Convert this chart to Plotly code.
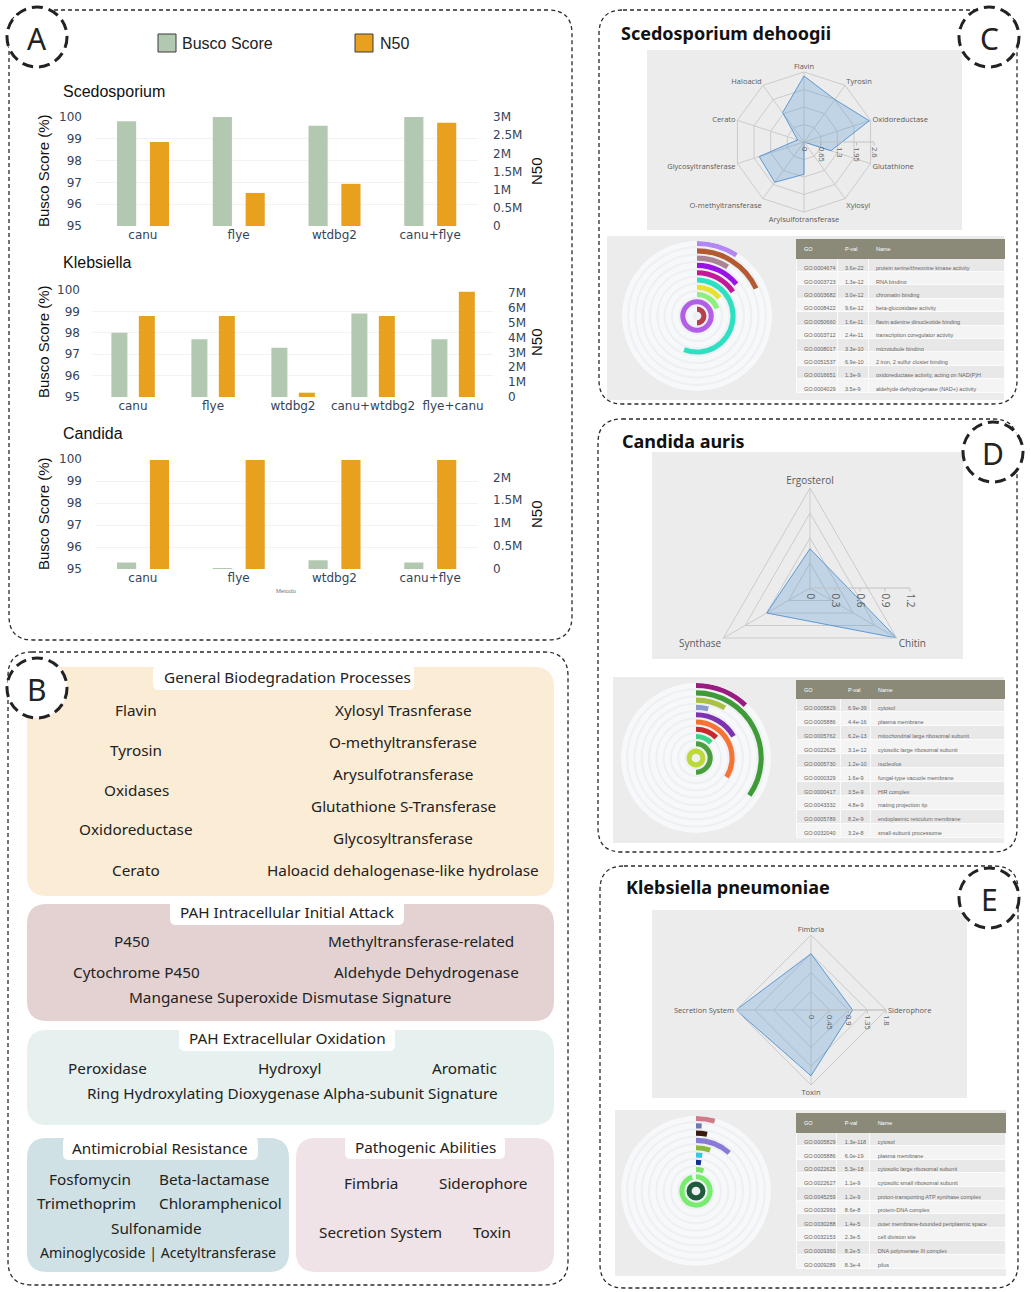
import plotly.graph_objects as go

W, H = 1031, 1292


def X(p):
    return p / W


def Y(p):
    return 1 - p / H


# ---------------- Panel A data ----------------
sced_methods = ["canu", "flye", "wtdbg2", "canu+flye"]
sced_busco = [99.8, 100.0, 99.6, 100.0]
sced_n50 = [2310000, 910000, 1160000, 2840000]

kleb_methods = ["canu", "flye", "wtdbg2", "canu+wtdbg2", "flye+canu"]
kleb_busco = [98.0, 97.7, 97.3, 98.9, 97.7]
kleb_n50 = [5450000, 5450000, 290000, 5450000, 7080000]

cand_methods = ["canu", "flye", "wtdbg2", "canu+flye"]
cand_busco = [95.3, 95.05, 95.4, 95.3]
cand_n50 = [2380000, 2380000, 2380000, 2380000]

busco_ticks = [95, 96, 97, 98, 99, 100]
sced_n50_ticks = [0, 500000, 1000000, 1500000, 2000000, 2500000, 3000000]
sced_n50_labels = ["0", "0.5M", "1M", "1.5M", "2M", "2.5M", "3M"]
kleb_n50_ticks = [0, 1000000, 2000000, 3000000, 4000000, 5000000, 6000000, 7000000]
kleb_n50_labels = ["0", "1M", "2M", "3M", "4M", "5M", "6M", "7M"]
cand_n50_ticks = [0, 500000, 1000000, 1500000, 2000000]
cand_n50_labels = ["0", "0.5M", "1M", "1.5M", "2M"]

# ---------------- Radar data ----------------
sced_radar_axes = ["Flavin", "Tyrosin", "Oxidoreductase", "Glutathione", "Xylosyl",
                   "Arylsulfotransferase", "O-methyltransferase", "Glycosyltransferase",
                   "Cerato", "Haloacid"]
sced_radar_vals = [2.45, 1.95, 2.55, 1.05, 0.0, 1.2, 1.85, 1.75, 0.25, 1.35]
sced_radar_ticks = [0, 0.65, 1.3, 1.95, 2.6]
sced_radar_ticklabels = ["0", "0.65", "1.3", "1.95", "2.6"]

cand_radar_axes = ["Ergosterol", "Chitin", "Synthase"]
cand_radar_vals = [0.47, 1.2, 0.6]
cand_radar_ticks = [0, 0.3, 0.6, 0.9, 1.2]
cand_radar_ticklabels = ["0", "0.3", "0.6", "0.9", "1.2"]

kleb_radar_axes = ["Fimbria", "Siderophore", "Toxin", "Secretion System"]
kleb_radar_vals = [1.35, 1.0, 1.58, 1.8]
kleb_radar_ticks = [0, 0.45, 0.9, 1.35, 1.8]
kleb_radar_ticklabels = ["0", "0.45", "0.9", "1.35", "1.8"]

# ---------------- Radial GO bars (inner -> outer, arc in degrees) ----------------
sced_go_arcs = [180, 360, 69, 51, 201, 56, 51, 32, 65, 33]
sced_go_colors = ["#b5404e", "#b25ee6", "#8df07a", "#e6e32c", "#2ee0c2",
                  "#c2189a", "#9a12e6", "#a88494", "#b35a32", "#b388f2"]
cand_go_arcs = [360, 180, 44, 45, 122, 60, 14, 30, 125, 43]
cand_go_colors = ["#bcd93a", "#4a9e3c", "#3bd488", "#c82a2a", "#f57335",
                  "#7d32b4", "#8a9ad0", "#a9c245", "#3f9b38", "#9a1c80"]
kleb_go_arcs = [360, 345, 20, 10, 10, 19, 41, 11, 5, 15]
kleb_go_colors = ["#1f5c3c", "#77ec6e", "#7ae36a", "#12308e", "#34c9e2",
                  "#8aba3a", "#8a7ad8", "#3b1a10", "#6a7ab2", "#d07a8a"]

# ---------------- GO tables ----------------
sced_go_ids = ["GO:0004674", "GO:0003723", "GO:0003682", "GO:0008422", "GO:0050660",
               "GO:0003712", "GO:0008017", "GO:0051537", "GO:0016651", "GO:0004029"]
sced_go_p = ["3.6e-22", "1.3e-12", "3.0e-12", "9.6e-12", "1.6e-11",
             "2.4e-11", "3.3e-10", "6.9e-10", "1.3e-9", "3.5e-9"]
sced_go_names = ["protein serine/threonine kinase activity", "RNA binding", "chromatin binding",
                 "beta-glucosidase activity", "flavin adenine dinucleotide binding",
                 "transcription coregulator activity", "microtubule binding",
                 "2 iron, 2 sulfur cluster binding", "oxidoreductase activity, acting on NAD(P)H",
                 "aldehyde dehydrogenase (NAD+) activity"]

cand_go_ids = ["GO:0005829", "GO:0005886", "GO:0005762", "GO:0022625", "GO:0005730",
               "GO:0000329", "GO:0000417", "GO:0043332", "GO:0005789", "GO:0032040"]
cand_go_p = ["6.9e-39", "4.4e-16", "6.2e-13", "3.1e-12", "1.2e-10",
             "1.6e-9", "3.5e-9", "4.8e-9", "8.2e-9", "3.2e-8"]
cand_go_names = ["cytosol", "plasma membrane", "mitochondrial large ribosomal subunit",
                 "cytosolic large ribosomal subunit", "nucleolus", "fungal-type vacuole membrane",
                 "HIR complex", "mating projection tip", "endoplasmic reticulum membrane",
                 "small-subunit processome"]

kleb_go_ids = ["GO:0005829", "GO:0005886", "GO:0022625", "GO:0022627", "GO:0045259",
               "GO:0032993", "GO:0030288", "GO:0032153", "GO:0009360", "GO:0009289"]
kleb_go_p = ["1.3e-118", "6.0e-19", "5.3e-18", "1.1e-9", "1.2e-9",
             "8.6e-8", "1.4e-5", "2.3e-5", "8.2e-5", "8.3e-4"]
kleb_go_names = ["cytosol", "plasma membrane", "cytosolic large ribosomal subunit",
                 "cytosolic small ribosomal subunit", "proton-transporting ATP synthase complex",
                 "protein-DNA complex", "outer membrane-bounded periplasmic space",
                 "cell division site", "DNA polymerase III complex", "pilus"]

# ---------------- Panel B text ----------------
gbp_left = ["Flavin", "Tyrosin", "Oxidases", "Oxidoreductase", "Cerato"]
gbp_right = ["Xylosyl Trasnferase", "O-methyltransferase", "Arysulfotransferase",
             "Glutathione S-Transferase", "Glycosyltransferase",
             "Haloacid dehalogenase-like hydrolase"]

# ====================================================================
fig = go.Figure()

GREEN = "#b3c8b0"
ORANGE = "#e8a11f"
BW, G_OFF, O_OFF = 0.2, -0.27, 0.073


def add_bars(methods, busco, n50, xa, ya, ya2):
    fig.add_trace(go.Bar(x=methods, y=busco, xaxis=xa, yaxis=ya, marker=dict(color=GREEN, line_width=0),
                         width=BW, offset=G_OFF, name="Busco Score", showlegend=False, hoverinfo="skip"))
    fig.add_trace(go.Bar(x=methods, y=n50, xaxis=xa, yaxis=ya2, marker=dict(color=ORANGE, line_width=0),
                         width=BW, offset=O_OFF, name="N50", showlegend=False, hoverinfo="skip"))


add_bars(sced_methods, sced_busco, sced_n50, "x", "y", "y2")
add_bars(kleb_methods, kleb_busco, kleb_n50, "x2", "y3", "y4")
add_bars(cand_methods, cand_busco, cand_n50, "x3", "y5", "y6")

tickfont = dict(family="DejaVu Sans", size=12, color="#34445a")


def xax(x0, x1, anchor):
    return dict(domain=[X(x0), X(x1)], anchor=anchor, type="category", showgrid=False,
                zeroline=False, showline=False, ticks="", tickfont=tickfont, fixedrange=True)


def yleft(top, bot, anchor):
    return dict(domain=[Y(bot), Y(top)], anchor=anchor, range=[95, 100], tickvals=busco_ticks,
                showgrid=True, gridcolor="#f2f2f2", zeroline=False, showline=False,
                tickfont=tickfont, ticklabelstandoff=12, fixedrange=True)


def yright(over, anchor, rng, tv, tt):
    return dict(overlaying=over, side="right", anchor=anchor, range=rng, tickvals=tv, ticktext=tt,
                showgrid=False, zeroline=False, showline=False, tickfont=tickfont,
                ticklabelstandoff=14, fixedrange=True)


# ---------------- Radar charts ----------------
def add_radar(axes, vals, subplot, ticks, axis_subplot):
    fig.add_trace(go.Scatterpolar(r=vals + [vals[0]], theta=axes + [axes[0]], subplot=subplot,
                                  mode="lines", fill="toself", fillcolor="rgba(91,155,213,0.30)",
                                  line=dict(color="rgba(80,145,210,0.9)", width=1),
                                  showlegend=False, hoverinfo="skip"))
    # invisible carrier so the horizontal radial scale (drawn on its own polar) is rendered
    fig.add_trace(go.Scatterpolar(r=ticks, theta=[0] * len(ticks), subplot=axis_subplot,
                                  mode="markers", marker=dict(size=1, opacity=0),
                                  showlegend=False, hoverinfo="skip"))


add_radar(sced_radar_axes, sced_radar_vals, "polar", sced_radar_ticks, "polar7")
add_radar(cand_radar_axes, cand_radar_vals, "polar2", cand_radar_ticks, "polar8")
add_radar(kleb_radar_axes, kleb_radar_vals, "polar3", kleb_radar_ticks, "polar9")


def dom(cx, cy, R):
    return dict(x=[X(cx - R), X(cx + R)], y=[Y(cy + R), Y(cy - R)])


def radar_layout(cx, cy, R, rng, tv, fsize):
    return dict(
        domain=dom(cx, cy, R),
        bgcolor="rgba(0,0,0,0)", gridshape="linear",
        angularaxis=dict(rotation=90, direction="clockwise", showline=True, linecolor="#cbcbcb",
                         gridcolor="#cbcbcb", ticks="",
                         tickfont=dict(family="Open Sans", size=fsize, color="#5a5a5a")),
        radialaxis=dict(range=rng, tickvals=tv, showline=False, showticklabels=False, ticks="",
                        gridcolor="#cbcbcb"))


def radar_scale_layout(cx, cy, R, rng, tv, tt, fsize):
    return dict(
        domain=dom(cx, cy, R), bgcolor="rgba(0,0,0,0)",
        angularaxis=dict(visible=False),
        radialaxis=dict(range=rng, tickvals=tv, ticktext=tt, angle=0, tickangle=90, showline=True,
                        linecolor="#c2c2c2", showgrid=False, ticks="outside", ticklen=3,
                        tickcolor="#bdbdbd",
                        tickfont=dict(family="Open Sans", size=fsize, color="#5a5a5a")))


# ---------------- Radial GO bars ----------------
RING_T = 0.7


def add_radial(arcs, colors, subplot):
    n = len(arcs)
    fig.add_trace(go.Barpolar(r=[n + 0.3], base=[0], theta=[180], width=[360], subplot=subplot,
                              marker=dict(color="#eef0f3", line_width=0), showlegend=False, hoverinfo="skip"))
    fig.add_trace(go.Barpolar(r=[RING_T] * n, base=[i + 0.6 for i in range(n)], theta=[180] * n,
                              width=[360] * n, subplot=subplot,
                              marker=dict(color="#f7f8fa", line_width=0), showlegend=False, hoverinfo="skip"))
    fig.add_trace(go.Barpolar(r=[RING_T] * n, base=[i + 0.6 for i in range(n)],
                              theta=[a / 2 for a in arcs], width=arcs, subplot=subplot,
                              marker=dict(color=colors, line_width=0), showlegend=False, hoverinfo="skip"))


add_radial(sced_go_arcs, sced_go_colors, "polar4")
add_radial(cand_go_arcs, cand_go_colors, "polar5")
add_radial(kleb_go_arcs, kleb_go_colors, "polar6")


def radial_layout(cx, cy, R, n):
    return dict(domain=dom(cx, cy, R),
                bgcolor="rgba(0,0,0,0)", barmode="overlay",
                radialaxis=dict(visible=False, range=[0, n + 0.3]),
                angularaxis=dict(visible=False, rotation=90, direction="clockwise"))


# ---------------- Tables ----------------
def add_table(ids, ps, names, x0, x1, y0, y1, hh, rh, colw):
    n = len(ids)
    fills = ["#e8e8e8" if i % 2 == 0 else "#f4f4f4" for i in range(n)]
    fig.add_trace(go.Table(
        domain=dict(x=[X(x0), X(x1)], y=[Y(y1), Y(y0)]),
        columnwidth=colw,
        header=dict(values=["GO", "P-val", "Name"], fill_color="#8b8a78", align="left", height=hh,
                    font=dict(family="Liberation Sans", size=5.5, color="white"),
                    line=dict(color="#8b8a78", width=1)),
        cells=dict(values=[ids, ps, names], fill_color=[fills] * 3, align="left", height=rh,
                   font=dict(family="Liberation Sans", size=5.5, color="#666666"),
                   line=dict(color="#fbfbfb", width=1))))


add_table(sced_go_ids, sced_go_p, sced_go_names, 796, 1004, 239, 400, 19, 13.4, [41, 31, 136])
add_table(cand_go_ids, cand_go_p, cand_go_names, 796, 1004, 680, 844, 18, 13.9, [44, 30, 134])
add_table(kleb_go_ids, kleb_go_p, kleb_go_names, 796, 1006, 1113, 1276, 19, 13.6, [41, 33, 136])

# ---------------- Shapes ----------------
shapes = []


def rrect(x0, y0, x1, y1, r, fill=None, line=None, layer="below"):
    rx, ry = r / W, r / H
    a0, a1 = X(x0), X(x1)
    b0, b1 = Y(y0), Y(y1)
    p = (f"M{a0+rx},{b0} L{a1-rx},{b0} Q{a1},{b0} {a1},{b0-ry} L{a1},{b1+ry} "
         f"Q{a1},{b1} {a1-rx},{b1} L{a0+rx},{b1} Q{a0},{b1} {a0},{b1+ry} L{a0},{b0-ry} "
         f"Q{a0},{b0} {a0+rx},{b0} Z")
    d = dict(type="path", path=p, xref="paper", yref="paper", layer=layer)
    d["fillcolor"] = fill if fill else "rgba(0,0,0,0)"
    d["line"] = line if line else dict(width=0)
    shapes.append(d)


def rect(x0, y0, x1, y1, fill, line=None, layer="below"):
    shapes.append(dict(type="rect", xref="paper", yref="paper", x0=X(x0), x1=X(x1), y0=Y(y1), y1=Y(y0),
                       fillcolor=fill, line=line if line else dict(width=0), layer=layer))


BOXLINE = dict(color="#2a2a2a", width=1.3, dash="4px,3px")

# grey backgrounds (right panels)
rect(647, 50, 962, 230, "#ececec")
rect(607, 236, 1004, 400, "#ececec")
rect(652, 452, 963, 659, "#ececec")
rect(613, 677, 1004, 843, "#ececec")
rect(652, 910, 967, 1098, "#ececec")
rect(615, 1110, 1006, 1276, "#ececec")

# Panel B colour blocks
rrect(27, 667, 554, 896, 20, fill="#fbecd5")
rrect(27, 904, 554, 1021, 20, fill="#e4d2d2")
rrect(27, 1030, 554, 1125, 20, fill="#e6f1ef")
rrect(27, 1138, 289, 1272, 20, fill="#cfe1e5")
rrect(296, 1138, 554, 1272, 20, fill="#efe3e7")
# white title tabs
rrect(153, 665, 414, 690, 6, fill="white")
rrect(170, 900, 404, 925, 6, fill="white")
rrect(179, 1026, 395, 1051, 6, fill="white")
rrect(63, 1136, 258, 1160, 6, fill="white")
rrect(345, 1135, 505, 1159, 6, fill="white")

# dashed panel frames
rrect(9, 10, 572, 640, 24, line=BOXLINE, layer="above")
rrect(8, 652, 568, 1285, 24, line=BOXLINE, layer="above")
rrect(599, 10, 1017, 404, 24, line=BOXLINE, layer="above")
rrect(598, 419, 1017, 852, 24, line=BOXLINE, layer="above")
rrect(600, 866, 1018, 1288, 24, line=BOXLINE, layer="above")

# legend swatches
rect(158, 34, 176, 52, GREEN, line=dict(color="#3a3a3a", width=1), layer="above")
rect(355, 34, 373, 52, ORANGE, line=dict(color="#3a3a3a", width=1), layer="above")

# letter circles
for (cx, cy) in [(37, 37), (37, 688), (989, 37), (993, 452), (989, 898)]:
    shapes.append(dict(type="circle", xref="paper", yref="paper", x0=X(cx - 30), x1=X(cx + 30),
                       y0=Y(cy + 30), y1=Y(cy - 30), fillcolor="white",
                       line=dict(color="#222222", width=3, dash="11px,6px"), layer="above"))

# ---------------- Annotations ----------------
anns = []


def ann(text, x, y, size, family="Noto Sans", color="#222222", xanchor="center", angle=0, bold=False):
    anns.append(dict(text=f"<b>{text}</b>" if bold else text, x=X(x), y=Y(y), xref="paper", yref="paper",
                     xanchor=xanchor, yanchor="middle", showarrow=False, textangle=angle,
                     font=dict(family=family, size=size, color=color)))


for lt, (cx, cy) in zip(["A", "B", "C", "D", "E"],
                        [(37, 37), (37, 688), (989, 37), (993, 452), (989, 898)]):
    ann(lt, cx, cy + 1, 30, family="Noto Sans", color="#222222")

AF = "Liberation Sans"
ann("Busco Score", 180, 43, 16, family=AF, xanchor="left")
ann("N50", 378, 43, 16, family=AF, xanchor="left")
ann("Scedosporium", 61, 91, 16, family=AF, xanchor="left", color="#111")
ann("Klebsiella", 61, 262, 16, family=AF, xanchor="left", color="#111")
ann("Candida", 61, 433, 16, family=AF, xanchor="left", color="#111")
for yc in [171, 342, 514]:
    ann("Busco Score (%)", 44, yc, 15, family=AF, angle=-90, color="#111")
    ann("N50", 537, yc, 15, family=AF, angle=-90, color="#111")
ann("Metodo", 286, 591, 6, family=AF, color="#777777")

# right panel titles
ann("Scedosporium dehoogii", 619, 33, 18, xanchor="left", bold=True, color="#111")
ann("Candida auris", 620, 441, 18, xanchor="left", bold=True, color="#111")
ann("Klebsiella pneumoniae", 624, 887, 18, xanchor="left", bold=True, color="#111")

# Panel B
BF = 15.3
ann("General Biodegradation Processes", 287, 677, BF)
for t, yy in zip(gbp_left, [710, 750, 790, 829, 870]):
    ann(t, 136, yy, BF)
for t, yy in zip(gbp_right, [710, 742, 774, 806, 838, 870]):
    ann(t, 403, yy, BF)

ann("PAH Intracellular Initial Attack", 287, 912, BF)
ann("P450", 132, 941, BF)
ann("Methyltransferase-related", 421, 941, BF)
ann("Cytochrome P450", 136, 972, BF)
ann("Aldehyde Dehydrogenase", 426, 972, BF)
ann("Manganese Superoxide Dismutase Signature", 290, 997, BF)

ann("PAH Extracellular Oxidation", 287, 1038, BF)
ann("Peroxidase", 107, 1068, BF)
ann("Hydroxyl", 289, 1068, BF)
ann("Aromatic", 464, 1068, BF)
ann("Ring Hydroxylating Dioxygenase Alpha-subunit Signature", 292, 1093, BF)

ann("Antimicrobial Resistance", 160, 1148, BF)
ann("Fosfomycin", 90, 1179, BF)
ann("Beta-lactamase", 214, 1179, BF)
ann("Trimethoprim", 86, 1203, BF)
ann("Chloramphenicol", 220, 1203, BF)
ann("Sulfonamide", 156, 1228, BF)
ann("Aminoglycoside | Acetyltransferase", 158, 1252, 14.2)

ann("Pathogenic Abilities", 425, 1147, BF)
ann("Fimbria", 371, 1183, BF)
ann("Siderophore", 483, 1183, BF)
ann("Secretion System", 380, 1232, BF)
ann("Toxin", 492, 1232, BF)

fig.update_layout(
    width=W, height=H, margin=dict(l=0, r=0, t=0, b=0, autoexpand=False), autosize=False,
    paper_bgcolor="white", plot_bgcolor="white", showlegend=False, hovermode=False,
    font=dict(family="Open Sans", color="#222"),
    xaxis=xax(95, 478, "y"),
    yaxis=yleft(117, 226, "x"),
    yaxis2=yright("y", "x", [0, 3000000], sced_n50_ticks, sced_n50_labels),
    xaxis2=xax(93, 493, "y3"),
    yaxis3=yleft(290, 397, "x2"),
    yaxis4=yright("y3", "x2", [0, 7200000], kleb_n50_ticks, kleb_n50_labels),
    xaxis3=xax(95, 478, "y5"),
    yaxis5=yleft(459, 569, "x3"),
    yaxis6=yright("y5", "x3", [0, 2400000], cand_n50_ticks, cand_n50_labels),
    polar=radar_layout(804, 142, 70, [0, 2.6], sced_radar_ticks, 7.5),
    polar2=radar_layout(810, 588, 100, [0, 1.2], cand_radar_ticks, 10),
    polar3=radar_layout(811, 1010, 75, [0, 1.8], kleb_radar_ticks, 7.5),
    polar7=radar_scale_layout(804, 142, 70, [0, 2.6], sced_radar_ticks, sced_radar_ticklabels, 7.5),
    polar8=radar_scale_layout(810, 588, 100, [0, 1.2], cand_radar_ticks, cand_radar_ticklabels, 10),
    polar9=radar_scale_layout(811, 1010, 75, [0, 1.8], kleb_radar_ticks, kleb_radar_ticklabels, 7.5),
    polar4=radial_layout(697, 316, 75, len(sced_go_arcs)),
    polar5=radial_layout(696, 758, 75, len(cand_go_arcs)),
    polar6=radial_layout(696, 1191, 75, len(kleb_go_arcs)),
    shapes=shapes,
    annotations=anns,
)

fig.write_html("out.html", config={"displayModeBar": False},
               post_script="document.documentElement.style.margin='0';document.body.style.margin='0';"
                           "document.documentElement.style.overflow='hidden';document.body.style.overflow='hidden';"
                           "window.scrollTo(0,0);")
